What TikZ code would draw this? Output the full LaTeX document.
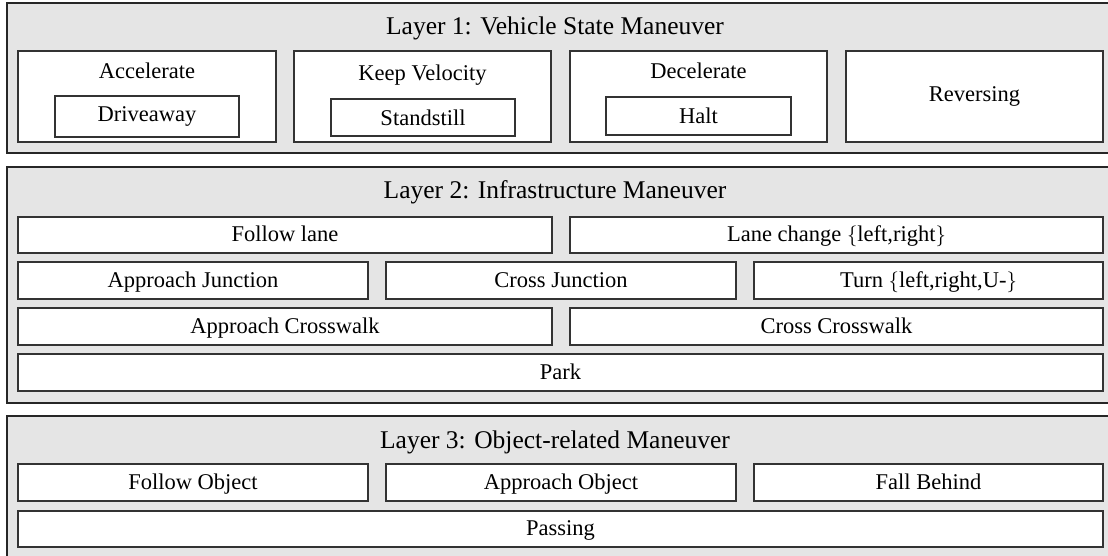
\documentclass[tikz,border=0pt]{standalone}
\usepackage{fontspec}
\setmainfont{Liberation Serif}
\newcommand\bodyfont{\fontsize{22.5}{27}\selectfont}
\newcommand\titlefont{\fontsize{25.5}{30}\selectfont}
\begin{document}
\begin{tikzpicture}[x=1pt,y=-1pt,
  layerbox/.style={draw=black!85, line width=1.3pt, fill=black!10, inner sep=0pt},
  outline/.style={draw=black!80, line width=1.1pt, fill=white, inner sep=0pt},
  cell/.style={outline, text height=19pt, text depth=6pt, font=\bodyfont},
  lbl/.style={anchor=base, inner sep=0pt, font=\bodyfont},
  ttl/.style={anchor=base, inner sep=0pt, font=\titlefont}]
\useasboundingbox (0,0) rectangle (1108,556);
\fill[white] (0,0) rectangle (1108,556);
% Layer 1
\node[layerbox, minimum width=1108pt, minimum height=150pt] (L1) at (561,78) {};
\node[ttl] (L1t) at (555,35) {Layer 1: Vehicle State Maneuver};
\node[outline, minimum width=258pt, minimum height=91pt] (acc) at (147,96.5) {};
\node[outline, minimum width=257pt, minimum height=91pt] (kv) at (422.5,96.5) {};
\node[outline, minimum width=257pt, minimum height=91pt] (dec) at (698.5,96.5) {};
\node[outline, minimum width=257pt, minimum height=91pt] (rev) at (974.5,96.5) {};
\node[lbl] (acct) at (147,79) {Accelerate};
\node[lbl] (kvt) at (422.5,81) {Keep Velocity};
\node[lbl] (dect) at (698.5,79) {Decelerate};
\node[lbl] (revt) at (974.5,102) {Reversing};
\node[outline, minimum width=184pt, minimum height=41pt] (drv) at (147,116.5) {};
\node[outline, minimum width=184pt, minimum height=37pt] (sst) at (423,117.5) {};
\node[outline, minimum width=185pt, minimum height=38pt] (hlt) at (698.5,116) {};
\node[lbl] (drvt) at (147,122) {Driveaway};
\node[lbl] (sstt) at (423,126) {Standstill};
\node[lbl] (hltt) at (698.5,124) {Halt};
% Layer 2
\node[layerbox, minimum width=1108pt, minimum height=236pt] (L2) at (561,285) {};
\node[ttl] (L2t) at (555,199) {Layer 2: Infrastructure Maneuver};
\node[cell, minimum width=534pt, minimum height=36pt] (fl) at (285,235) {Follow lane};
\node[cell, minimum width=533pt, minimum height=36pt] (lc) at (836.5,235) {Lane change $\{$left,right$\}$};
\node[cell, minimum width=350pt, minimum height=37pt] (aj) at (193,280.5) {Approach Junction};
\node[cell, minimum width=350pt, minimum height=37pt] (cj) at (561,280.5) {Cross Junction};
\node[cell, minimum width=349pt, minimum height=37pt] (tu) at (928.5,280.5) {Turn $\{$left,right,U-$\}$};
\node[cell, minimum width=534pt, minimum height=37pt] (acw) at (285,326.5) {Approach Crosswalk};
\node[cell, minimum width=533pt, minimum height=37pt] (ccw) at (836.5,326.5) {Cross Crosswalk};
\node[cell, minimum width=1085pt, minimum height=37pt] (pk) at (560.5,372.5) {Park};
% Layer 3
\node[layerbox, minimum width=1108pt, minimum height=149pt] (L3) at (561,490.5) {};
\node[ttl] (L3t) at (555,448) {Layer 3: Object-related Maneuver};
\node[cell, minimum width=350pt, minimum height=37pt] (fo) at (193,482.5) {Follow Object};
\node[cell, minimum width=350pt, minimum height=37pt] (ao) at (561,482.5) {Approach Object};
\node[cell, minimum width=349pt, minimum height=37pt] (fb) at (928.5,482.5) {Fall Behind};
\node[cell, minimum width=1085pt, minimum height=36pt] (ps) at (560.5,529) {Passing};
\end{tikzpicture}
\end{document}
